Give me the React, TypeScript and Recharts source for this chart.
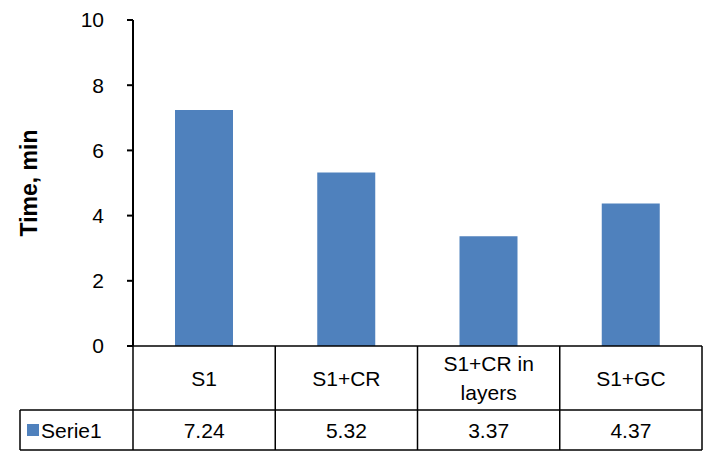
import { BarChart, Bar, XAxis, YAxis } from "recharts";

const categories = ["S1", "S1+CR", "S1+CR in layers", "S1+GC"];
const serie1 = [7.24, 5.32, 3.37, 4.37];
const yTicks = [0, 2, 4, 6, 8, 10];
const seriesName = "Serie1";

const data = categories.map((c, i) => ({ name: c, v: serie1[i] }));

const L = 133;
const R = 702;
const TOP = 20;
const BASE = 346;
const ROW1 = 410;
const ROW2 = 450;
const colW = (R - L) / categories.length;
const font = "Arial, 'Liberation Sans', sans-serif";

const App = () => {
  return (
    <div style={{ position: "fixed", left: 0, top: 0, width: 716, height: 462, background: "#fff", fontFamily: font }}>
      <BarChart width={716} height={462} data={data} margin={{ top: TOP, right: 716 - R, bottom: 462 - BASE, left: L - 80 }} barCategoryGap="0%">
        <XAxis dataKey="name" hide />
        <YAxis
          domain={[0, 10]}
          ticks={yTicks}
          width={80}
          tick={{ fontSize: 21, fill: "#000", fontFamily: font }}
          tickLine={{ stroke: "#000", strokeWidth: 2 }}
          axisLine={{ stroke: "#000", strokeWidth: 2 }}
          tickSize={6}
          tickMargin={23}
        />
        <Bar dataKey="v" fill="#4f81bd" barSize={58} isAnimationActive={false} />
      </BarChart>
      <svg width={716} height={462} style={{ position: "absolute", left: 0, top: 0 }}>
        <text transform={`translate(37,${(TOP + BASE) / 2}) rotate(-90)`} textAnchor="middle" fontSize={23} fontWeight="bold" fontFamily={font}>
          Time, min
        </text>
        <line x1={L} x2={R} y1={BASE} y2={BASE} stroke="#000" strokeWidth={1.5} />
        <line x1={20} x2={R} y1={ROW1} y2={ROW1} stroke="#000" strokeWidth={1.5} />
        <line x1={20} x2={R} y1={ROW2} y2={ROW2} stroke="#000" strokeWidth={1.5} />
        <line x1={20} x2={20} y1={ROW1} y2={ROW2} stroke="#000" strokeWidth={1.5} />
        {categories.map((_, i) => (
          <line key={i} x1={L + colW * i} x2={L + colW * i} y1={BASE} y2={ROW2} stroke="#000" strokeWidth={1.5} />
        ))}
        <line x1={R} x2={R} y1={BASE} y2={ROW2} stroke="#000" strokeWidth={1.5} />
        {categories.map((c, i) => {
          const cx = L + colW * (i + 0.5);
          if (c === "S1+CR in layers") {
            return (
              <text key={c} x={cx} textAnchor="middle" fontSize={21} fontFamily={font}>
                <tspan x={cx} y={371}>S1+CR in</tspan>
                <tspan x={cx} y={400}>layers</tspan>
              </text>
            );
          }
          return (
            <text key={c} x={cx} y={386} textAnchor="middle" fontSize={21} fontFamily={font}>{c}</text>
          );
        })}
        {serie1.map((v, i) => (
          <text key={i} x={L + colW * (i + 0.5)} y={438} textAnchor="middle" fontSize={21} fontFamily={font}>{v.toFixed(2)}</text>
        ))}
        <rect x={27} y={424} width={12} height={12} fill="#4f81bd" />
        <text x={41} y={438} fontSize={21} fontFamily={font}>{seriesName}</text>
      </svg>
    </div>
  );
};

export default App;
